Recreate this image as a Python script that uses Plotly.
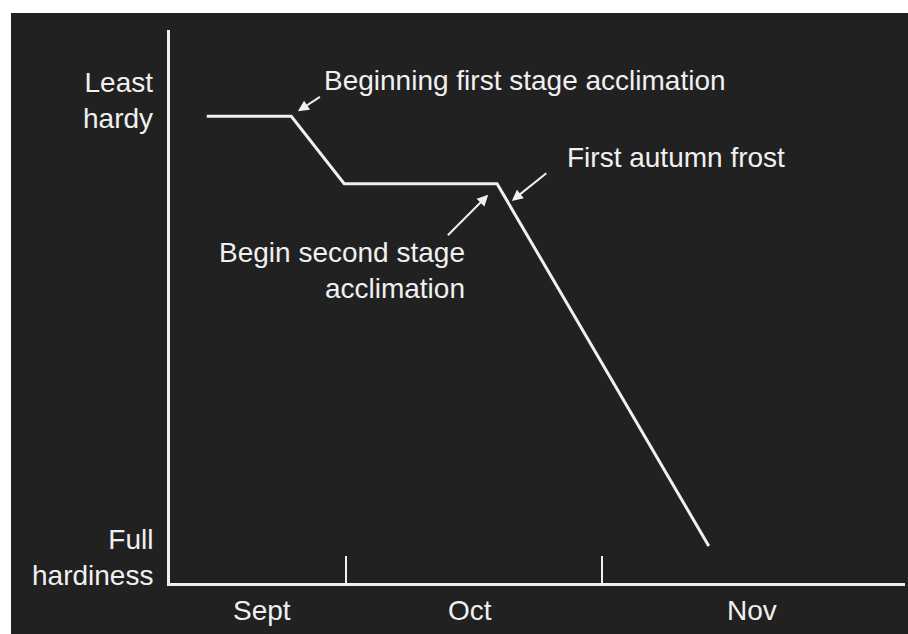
import plotly.graph_objects as go

# Conceptual time axis (arbitrary units 0-100) and hardiness level (0 = full hardiness, 100 = least hardy)
curve_time = [5.0, 16.5, 23.7, 44.5, 73.3]
curve_hardiness = [84.4, 84.4, 72.2, 72.2, 6.7]

month_boundaries = [23.95, 58.8]
month_labels = ["Sept", "Oct", "Nov"]
month_label_pos = [12.5, 40.8, 79.2]

y_labels = ["Least<br>hardy", "Full<br>hardiness"]

# annotations: (text, x, y) for text; arrows: (head_x, head_y, tail_x, tail_y)
note_texts = ["Beginning first stage acclimation", "First autumn frost", "Begin second stage<br>acclimation"]
note_x = [20.7, 53.7, 40.4]
note_y = [90.9, 77.0, 56.6]
arrow_head_x = [17.4, 46.5, 43.3]
arrow_head_y = [85.3, 69.1, 70.2]
arrow_tail_x = [20.6, 51.4, 37.6]
arrow_tail_y = [88.1, 74.3, 62.6]

FG = "#f0f0f0"
BG = "#212121"
FONT = "Liberation Sans, Arial, Helvetica, sans-serif"
FS = 28

fig = go.Figure()
fig.add_trace(go.Scatter(x=curve_time, y=curve_hardiness, mode="lines",
                         line=dict(color=FG, width=3), hoverinfo="skip"))

annotations = []
# note texts
anchors = ["left", "left", "right"]
for t, x, y, a in zip(note_texts, note_x, note_y, anchors):
    annotations.append(dict(text=t, x=x, y=y, xref="x", yref="y", showarrow=False,
                            xanchor=a, yanchor="middle", align=a,
                            font=dict(family=FONT, size=FS, color=FG)))
# arrows
for hx, hy, tx, ty in zip(arrow_head_x, arrow_head_y, arrow_tail_x, arrow_tail_y):
    annotations.append(dict(text="", x=hx, y=hy, xref="x", yref="y",
                            ax=tx, ay=ty, axref="x", ayref="y", showarrow=True,
                            arrowhead=2, arrowsize=1.1, arrowwidth=2, arrowcolor=FG,
                            standoff=0, startstandoff=0))
# month labels
for lab, x in zip(month_labels, month_label_pos):
    annotations.append(dict(text=lab, x=x, y=-0.0506, xref="x", yref="paper", showarrow=False,
                            xanchor="center", yanchor="middle",
                            font=dict(family=FONT, size=FS, color=FG)))
# y labels
for lab, y in zip(y_labels, [0.873, 0.047]):
    annotations.append(dict(text=lab, x=-0.021, y=y, xref="paper", yref="paper", showarrow=False,
                            xanchor="right", yanchor="middle", align="right",
                            font=dict(family=FONT, size=FS, color=FG)))

fig.update_layout(
    width=908, height=634, autosize=False,
    margin=dict(l=170, r=3, t=30, b=51, pad=0),
    paper_bgcolor=BG, plot_bgcolor=BG,
    showlegend=False,
    annotations=annotations,
    shapes=[
        # white strips along the top and left edges of the picture
        dict(type="rect", xref="paper", yref="paper",
             x0=-0.25, x1=1.1, y0=1.0307, y1=1.2,
             fillcolor="white", line=dict(width=0), layer="below"),
        dict(type="rect", xref="paper", yref="paper",
             x0=-0.25, x1=-0.2163, y0=-0.2, y1=1.2,
             fillcolor="white", line=dict(width=0), layer="below"),
    ],
    xaxis=dict(range=[0, 100], showgrid=False, zeroline=False, showline=True,
               linecolor=FG, linewidth=3, tickvals=month_boundaries, ticks="inside",
               ticklen=27, tickwidth=2, tickcolor=FG, showticklabels=False, fixedrange=True),
    yaxis=dict(range=[0, 100], showgrid=False, zeroline=False, showline=True,
               linecolor=FG, linewidth=3, showticklabels=False, ticks="", fixedrange=True),
)

fig.write_html("out.html", config={"displayModeBar": False},
               post_script=("document.body.style.margin='0';"
                            "document.body.style.overflow='hidden';"
                            "document.documentElement.style.overflow='hidden';"
                            "document.body.style.background='#212121';"))
